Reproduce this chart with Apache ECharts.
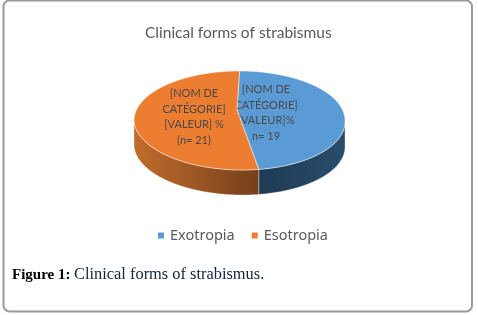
<!DOCTYPE html>
<html>
<head>
<meta charset="utf-8">
<style>html,body{margin:0;padding:0;background:#fff}#c{width:478px;height:315px}</style>
<script src="https://cdn.jsdelivr.net/npm/echarts@6/dist/echarts.min.js"></script>
</head>
<body>
<div id="c"></div>
<script>
const chartTitle = 'Clinical forms of strabismus';
const categories = ['Exotropia', 'Esotropia'];
const values = [19, 21];
const sliceLabels = [
  '[NOM DE\nCATÉGORIE]\n[VALEUR]%\nn= 19',
  '[NOM DE\nCATÉGORIE]\n[VALEUR] %\n(n= 21)'
];
const colors = ['#5b9bd5', '#ed7d31'];
const rimColors = [['#1f3a55', '#2a4d6c'], ['#c26c2c', '#74401a']];
const captionBold = 'Figure 1:';
const captionText = 'Clinical forms of strabismus.';

const pie = { cx: 239.5, cy: 120.5, rx: 105.5, ry: 49.5, apexX: 237, apexY: 110, depth: 25, frontShift: 2.8 };
const labelPos = [[266, 113], [194, 117]];
const total = values.reduce((a, b) => a + b, 0);

function pt(deg, dy) {
  const r = deg * Math.PI / 180;
  const c = Math.cos(r);
  return [pie.cx + pie.rx * Math.sin(r) + pie.frontShift * Math.max(0, -c), pie.cy - pie.ry * c + (dy || 0)];
}
function arc(a, b, dy) {
  const out = [];
  const n = Math.max(2, Math.ceil(Math.abs(b - a)));
  for (let i = 0; i <= n; i++) out.push(pt(a + (b - a) * i / n, dy));
  return out;
}
function renderer(idx) {
  return function (params, api) {
    const before = values.slice(0, idx).reduce((a, b) => a + b, 0);
    const a = before / total * 360;
    const b = a + api.value(0) / total * 360;
    const children = [];
    const fa = Math.max(a, 90), fb = Math.min(b, 270);
    if (fb > fa) {
      const pts = arc(fa, fb, 0).concat(arc(fb, fa, pie.depth));
      children.push({
        type: 'polygon', shape: { points: pts },
        style: {
          fill: new echarts.graphic.LinearGradient(idx === 1 ? 0 : 1, 0, idx === 1 ? 1 : 0, 0, [
            { offset: 0, color: rimColors[idx][idx === 0 ? 1 : 0] },
            { offset: 1, color: rimColors[idx][idx === 0 ? 0 : 1] }
          ]),
          stroke: 'rgba(255,255,255,0.55)', lineWidth: 0.6
        }
      });
    }
    children.push({
      type: 'polygon',
      shape: { points: [[pie.apexX, pie.apexY]].concat(arc(a, b, 0)) },
      style: { fill: colors[idx], stroke: 'rgba(255,255,255,0.7)', lineWidth: 0.7 }
    });
    children.push({
      type: 'text',
      style: {
        x: labelPos[idx][0], y: labelPos[idx][1], text: sliceLabels[idx],
        fill: '#484848', font: '11px Lato', align: 'center', verticalAlign: 'middle', lineHeight: 15.7
      }
    });
    return { type: 'group', children };
  };
}

const chart = echarts.init(document.getElementById('c'), null, { renderer: 'canvas' });
chart.setOption({
  animation: false,
  backgroundColor: '#ffffff',
  title: {
    text: chartTitle, left: 145, top: 25,
    textStyle: { fontFamily: 'Lato', fontSize: 15.5, fontWeight: 'normal', color: '#595959' },
    padding: 0
  },
  legend: {
    data: categories, left: 153, top: 223, itemWidth: 6, itemHeight: 6, itemGap: 17,
    icon: 'rect',
    textStyle: { fontFamily: 'Noto Sans', fontSize: 14.5, color: '#595959', padding: [0, 0, 0, 1] }
  },
  series: categories.map((name, i) => ({
    type: 'custom', name, coordinateSystem: 'none', silent: true,
    itemStyle: { color: colors[i] },
    data: [[values[i]]],
    renderItem: renderer(i)
  })),
  graphic: [
    {
      type: 'rect', shape: { x: 3.5, y: 0.5, width: 468.5, height: 311, r: 6 },
      style: { fill: 'none', stroke: '#9a9a9a', lineWidth: 2 }, z: 10, silent: true
    },
    {
      type: 'text', left: 12, top: 268, silent: true,
      style: { text: captionBold, font: 'bold 15px "Liberation Serif"', fill: '#000000' }
    },
    {
      type: 'text', left: 74, top: 267, silent: true,
      style: { text: captionText, font: '16.4px "Liberation Serif"', fill: '#14233f' }
    }
  ]
});
</script>
</body>
</html>
